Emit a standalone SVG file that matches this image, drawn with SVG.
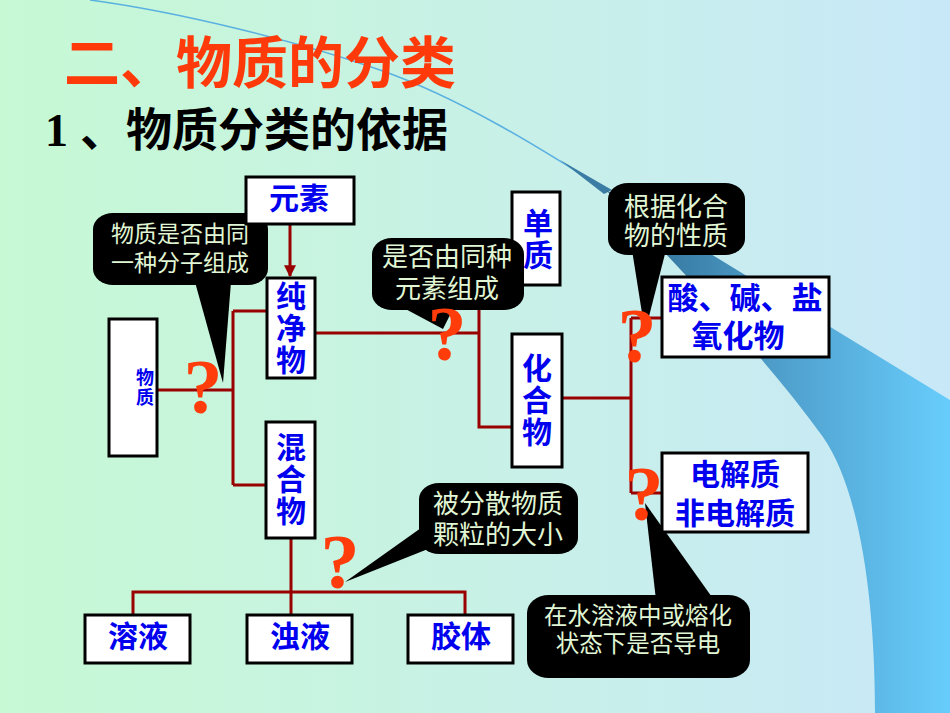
<svg xmlns="http://www.w3.org/2000/svg" width="950" height="713" viewBox="0 0 950 713">
<defs>
<linearGradient id="bg" x1="0" y1="0" x2="1" y2="0">
<stop offset="0" stop-color="#c6f9d4"/>
<stop offset="0.5" stop-color="#c8f1e6"/>
<stop offset="1" stop-color="#c8e8f8"/>
</linearGradient>
<linearGradient id="band" gradientUnits="userSpaceOnUse" x1="610" y1="0" x2="950" y2="0">
<stop offset="0" stop-color="#2c6a90"/>
<stop offset="0.5" stop-color="#4f9fcc"/>
<stop offset="1" stop-color="#68cdfc"/>
</linearGradient>
<marker id="arr" viewBox="0 0 10 10" refX="9" refY="5" markerWidth="4" markerHeight="4" orient="auto" markerUnits="strokeWidth">
<path d="M0,0 L10,5 L0,10 Z" fill="#990000"/>
</marker>
<style>
.box{fill:#fff;stroke:#000;stroke-width:3}
.lbl{font-family:"Noto Sans CJK SC","Noto Sans CJK TC",sans-serif;font-size:30px;fill:#0000ee;text-anchor:middle;font-weight:bold}
.v{writing-mode:tb;letter-spacing:2px}
.call{fill:#000}
.ct{font-family:"Noto Sans CJK SC","Noto Sans CJK TC",sans-serif;fill:#e0f6d4;text-anchor:middle}
.ln{fill:none;stroke:#990000;stroke-width:3}
.q{font-family:"Liberation Serif",serif;font-weight:bold;font-size:78px;fill:#ff3c0a;text-anchor:middle}
</style>
</defs>

<g id="background">
<rect x="0" y="0" width="950" height="713" fill="url(#bg)"/>
<path d="M90,0 C180,12 300,42 380,70 S540,148 606,190" fill="none" stroke="#5ab0e0" stroke-width="1.5"/>
<path d="M560,160 L612,190 L604,194 Z" fill="#3a7ca4"/>
<path d="M606,190 L950,400 L950,713 L875,713 C875,600 860,490 823,437 C760,350 680,270 606,190 Z" fill="url(#band)"/>
</g>

<g id="title">
<text x="64" y="83" font-family="'Noto Sans CJK SC',sans-serif" font-size="56" font-weight="bold" fill="#ff3a0a">二、物质的分类</text>
<text y="146" font-family="'Liberation Serif','Noto Sans CJK SC',serif" font-size="46" font-weight="bold" fill="#000"><tspan x="45">1</tspan><tspan x="80" font-family="'Noto Sans CJK SC',sans-serif">、物质分类的依据</tspan></text>
</g>

<g id="callout-molecule">
<rect class="call" x="93" y="213" width="175" height="72" rx="20" ry="16"/>
<polygon class="call" points="195,282 223,383 231,282"/>
<text class="ct" font-size="23" x="180" y="242">物质是否由同</text>
<text class="ct" font-size="23" x="180" y="271">一种分子组成</text>
</g>

<g id="callout-property">
<rect class="call" x="608" y="183" width="137" height="72" rx="20" ry="16"/>
<polygon class="call" points="632,250 645,332 666,250"/>
<text class="ct" font-size="26" x="676" y="216">根据化合</text>
<text class="ct" font-size="26" x="676" y="245">物的性质</text>
</g>

<g id="callout-size">
<rect class="call" x="419" y="483" width="159" height="71" rx="20" ry="16"/>
<polygon class="call" points="428,523 345,582 428,549"/>
<text class="ct" font-size="26" x="498" y="513">被分散物质</text>
<text class="ct" font-size="26" x="498" y="544">颗粒的大小</text>
</g>

<g id="callout-conduct">
<rect class="call" x="527" y="595" width="223" height="83" rx="22" ry="18"/>
<polygon class="call" points="656,600 645,503 714,600"/>
<text class="ct" font-size="23.5" x="638" y="624">在水溶液中或熔化</text>
<text class="ct" font-size="23.5" x="638" y="652">状态下是否导电</text>
</g>

<g id="connectors">
<path class="ln" d="M157,390 H233 M233,311 V485 M233,311 H267 M233,485 H266"/>
<path class="ln" d="M290,224 V276" marker-end="url(#arr)"/>
<path class="ln" d="M315,333 H479 M479,300 V427 H512"/>
<path class="ln" d="M562,398 H631 M631,318 V493 M631,318 H662 M631,493 H662"/>
<path class="ln" d="M291,538 V615 M133,615 V592 H465 V615"/>
</g>

<g id="node-wuzhi">
<rect class="box" x="109" y="319" width="48" height="137"/>
<text class="lbl v" style="font-size:18px" x="145" y="388">物质</text>
</g>

<g id="node-yuansu">
<rect class="box" x="246" y="177" width="108" height="47"/>
<text class="lbl" x="299" y="209">元素</text>
</g>

<g id="node-chunjingwu">
<rect class="box" x="267" y="278" width="48" height="100"/>
<text class="lbl v" x="291" y="329">纯净物</text>
</g>

<g id="node-hunhewu">
<rect class="box" x="266" y="422" width="49" height="116"/>
<text class="lbl v" x="291" y="480">混合物</text>
</g>

<g id="node-danzhi">
<rect class="box" x="512" y="192" width="48" height="93"/>
<text class="lbl v" x="538" y="240">单质</text>
</g>

<g id="node-huahewu">
<rect class="box" x="512" y="334" width="50" height="133"/>
<text class="lbl v" x="537" y="401">化合物</text>
</g>

<g id="node-suanjianyan">
<rect class="box" x="662" y="277" width="167" height="80"/>
<text class="lbl" style="font-size:31px"><tspan x="745" y="309">酸、碱、盐</tspan><tspan x="738" y="347">氧化物</tspan></text>
</g>

<g id="node-dianjiezhi">
<rect class="box" x="662" y="453" width="146" height="79"/>
<text class="lbl"><tspan x="735" y="485">电解质</tspan><tspan x="735" y="524">非电解质</tspan></text>
</g>

<g id="node-rongye">
<rect class="box" x="85" y="615" width="105" height="48"/>
<text class="lbl" x="138" y="647">溶液</text>
</g>

<g id="node-zhuoye">
<rect class="box" x="247" y="615" width="105" height="48"/>
<text class="lbl" x="300" y="647">浊液</text>
</g>

<g id="node-jiaoti">
<rect class="box" x="408" y="615" width="105" height="48"/>
<text class="lbl" x="461" y="647">胶体</text>
</g>

<g id="callout-element">
<rect class="call" x="372" y="238" width="152" height="72" rx="20" ry="16"/>
<polygon class="call" points="398,305 443,329 455,305"/>
<text class="ct" font-size="26" x="447" y="266">是否由同种</text>
<text class="ct" font-size="26" x="447" y="298">元素组成</text>
</g>

<g id="question-marks">
<text class="q" x="203" y="413">?</text>
<text class="q" x="447" y="360">?</text>
<text class="q" x="637" y="362">?</text>
<text class="q" x="644" y="520">?</text>
<text class="q" x="340" y="588">?</text>
</g>
</svg>
